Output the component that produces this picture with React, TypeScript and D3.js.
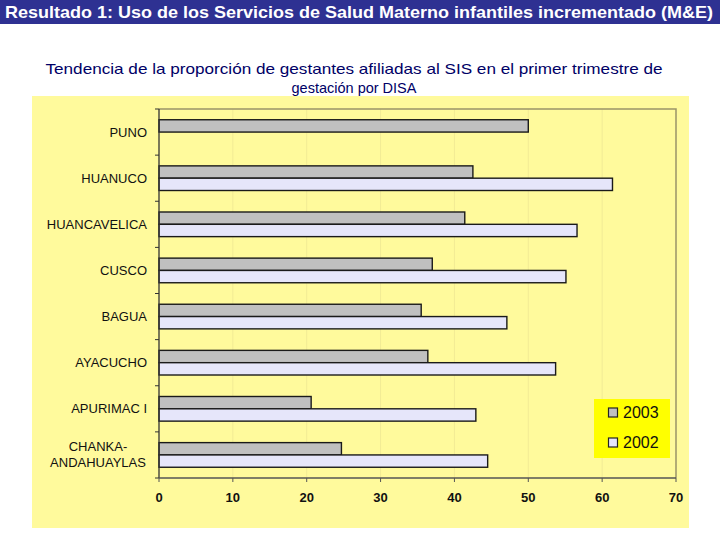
import React from "react";
import * as d3 from "d3";

const categories = ["PUNO", "HUANUCO", "HUANCAVELICA", "CUSCO", "BAGUA", "AYACUCHO", "APURIMAC I", "CHANKA-\nANDAHUAYLAS"];
const seriesNames = ["2003", "2002"];
const values2003 = [50.0, 42.5, 41.4, 37.0, 35.5, 36.4, 20.6, 24.7];
const values2002 = [null, 61.4, 56.6, 55.1, 47.1, 53.7, 42.9, 44.5];
const xTicks = [0, 10, 20, 30, 40, 50, 60, 70];
const seriesFill = ["#C0C0C0", "#E6E6FA"];

const title = "Resultado 1: Uso de los Servicios de Salud Materno infantiles incrementado (M&E)";
const subtitle1 = "Tendencia de la proporción de gestantes afiliadas al SIS en el primer trimestre de";
const subtitle2 = "gestación por DISA";

export default function App() {
  const W = 720, H = 540;
  const left = 159, right = 676, top = 109, bottom = 478;
  const x = d3.scaleLinear().domain([0, 70]).range([left, right]);
  const y = d3.scaleBand<string>().domain(categories).range([top, bottom]).paddingInner(0.466).paddingOuter(0.233);
  const yi = d3.scaleBand<string>().domain(seriesNames).range([0, y.bandwidth()]);
  const series = [values2003, values2002];
  const step = y.step();
  const font = "'Liberation Sans', Arial, sans-serif";

  return (
    <svg width={W} height={H} style={{ position: "absolute", left: 0, top: 0, background: "#fff" }} fontFamily={font}>
      <rect x={0} y={0} width={W} height={H} fill="#fff" />
      {/* banner */}
      <rect x={0} y={0} width={W} height={24} fill="#2E3192" />
      <text x={5} y={18} fill="#fff" fontSize={17} fontWeight="bold" textLength={708} lengthAdjust="spacingAndGlyphs">{title}</text>
      {/* subtitle */}
      <text x={354} y={74} textAnchor="middle" fill="#000066" fontSize={14.5} textLength={617} lengthAdjust="spacingAndGlyphs">{subtitle1}</text>
      <text x={354} y={92.5} textAnchor="middle" fill="#000066" fontSize={14.5}>{subtitle2}</text>
      {/* chart background */}
      <rect x={32} y={96} width={657} height={432} fill="#FFFA9C" />
      {/* gridlines */}
      {xTicks.slice(1, -1).map((t) => (
        <line key={"g" + t} x1={x(t)} x2={x(t)} y1={top} y2={bottom} stroke="#F2EB95" strokeWidth={1} />
      ))}
      {/* plot border */}
      <path d={`M${left},${top}H${right}V${bottom}`} fill="none" stroke="#9A9468" strokeWidth={1.5} />
      {/* bars */}
      {categories.map((c, i) =>
        series.map((vals, s) => {
          const v = vals[i];
          if (v == null) return null;
          return (
            <rect key={c + s} x={x(0)} y={(y(c) as number) + (yi(seriesNames[s]) as number)}
              width={x(v) - x(0)} height={yi.bandwidth()} fill={seriesFill[s]} stroke="#1a1a1a" strokeWidth={1.4} />
          );
        })
      )}
      {/* axes */}
      <line x1={left} x2={left} y1={top} y2={bottom} stroke="#333" strokeWidth={1.3} />
      <line x1={left} x2={right} y1={bottom} y2={bottom} stroke="#555" strokeWidth={1.3} />
      {categories.map((c, i) => (
        <line key={"yt" + i} x1={left - 4} x2={left} y1={top + i * step} y2={top + i * step} stroke="#333" />
      ))}
      <line x1={left - 4} x2={left} y1={bottom} y2={bottom} stroke="#333" />
      {xTicks.map((t) => (
        <g key={"xt" + t}>
          <line x1={x(t)} x2={x(t)} y1={bottom} y2={bottom + 4} stroke="#555" />
          <text x={x(t)} y={502} textAnchor="middle" fontSize={13} fontWeight="bold" fill="#111">{t}</text>
        </g>
      ))}
      {/* category labels */}
      {categories.map((c) => {
        const cy = (y(c) as number) + y.bandwidth() / 2;
        const lines = c.split("\n");
        if (lines.length === 1) {
          return <text key={"l" + c} x={147} y={cy + 4.5} textAnchor="end" fontSize={13} fill="#111">{c}</text>;
        }
        return (
          <text key={"l" + c} x={98} textAnchor="middle" fontSize={13} fill="#111">
            {lines.map((ln, k) => (
              <tspan key={k} x={98} y={cy + 4.5 + (k - (lines.length - 1) / 2) * 16}>{ln}</tspan>
            ))}
          </text>
        );
      })}
      {/* legend */}
      <rect x={594} y={399} width={76} height={59} fill="#FFFF00" />
      {seriesNames.map((s, k) => (
        <g key={"lg" + s}>
          <rect x={608.5} y={408 + k * 30} width={9} height={9} fill={seriesFill[k]} stroke="#222" strokeWidth={1.2} />
          <text x={623} y={418 + k * 30} fontSize={16} fill="#111">{s}</text>
        </g>
      ))}
    </svg>
  );
}
